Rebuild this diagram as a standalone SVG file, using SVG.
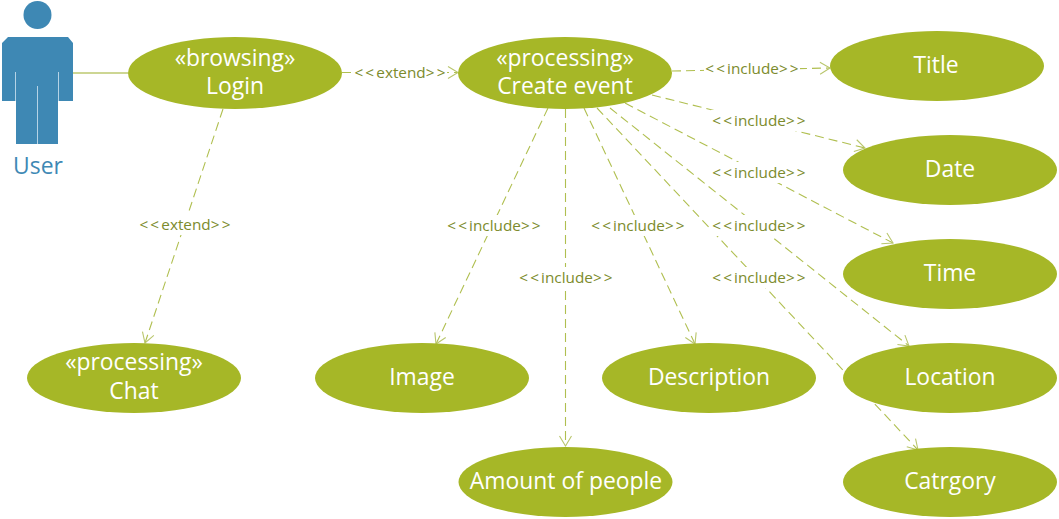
<svg xmlns="http://www.w3.org/2000/svg" width="1059" height="519" viewBox="0 0 1059 519">
<style>
text{font-family:"Open Sans","Noto Sans","Liberation Sans",sans-serif}
.uc{fill:#a6b727}
.n{fill:#fff;font-size:22.900px;text-anchor:middle}
.l{fill:#7c8b2c;font-size:15.300px;text-anchor:middle}
.l tspan{letter-spacing:2.200px}
.d{fill:none;stroke:#b0bf50;stroke-width:1.100;stroke-dasharray:9 5;marker-end:url(#a)}
.bg{fill:#fff}
</style>
<defs>
<marker id="a" markerUnits="userSpaceOnUse" markerWidth="14" markerHeight="16" refX="12" refY="8" orient="auto">
<path d="M2 2L12 8L2 14" fill="none" stroke="#b9c66d" stroke-width="1.100"/>
</marker>
</defs>
<rect width="1059" height="519" fill="#fff"/>
<g id="connectors">
<path d="M73 73H128" fill="none" stroke="#bdc96f" stroke-width="1.600"/>
<path class="d" d="M342 72.500H458"/>
<path class="d" d="M223 109L145 343"/>
<path class="d" d="M672 71L830 68"/>
<path class="d" d="M652 95L865 148"/>
<path class="d" d="M625 103L893 243"/>
<path class="d" d="M610 108L909 346"/>
<path class="d" d="M597 108L918 450"/>
<path class="d" d="M584 108L695 344"/>
<path class="d" d="M565.500 109V446"/>
<path class="d" d="M548 108L436 344"/>
<g id="connector-labels">
<rect class="bg" x="353" y="62" width="94" height="21"/><text class="l" x="401" y="78"><tspan>&lt;&lt;</tspan>extend<tspan>&gt;&gt;</tspan></text>
<rect class="bg" x="138" y="214" width="94" height="21"/><text class="l" x="186" y="230"><tspan>&lt;&lt;</tspan>extend<tspan>&gt;&gt;</tspan></text>
<rect class="bg" x="704" y="58" width="96" height="21"/><text class="l" x="753" y="74"><tspan>&lt;&lt;</tspan>include<tspan>&gt;&gt;</tspan></text>
<rect class="bg" x="711" y="110" width="96" height="21"/><text class="l" x="760" y="126"><tspan>&lt;&lt;</tspan>include<tspan>&gt;&gt;</tspan></text>
<rect class="bg" x="711" y="162" width="96" height="21"/><text class="l" x="760" y="178"><tspan>&lt;&lt;</tspan>include<tspan>&gt;&gt;</tspan></text>
<rect class="bg" x="711" y="215" width="96" height="21"/><text class="l" x="760" y="231"><tspan>&lt;&lt;</tspan>include<tspan>&gt;&gt;</tspan></text>
<rect class="bg" x="711" y="267" width="96" height="21"/><text class="l" x="760" y="283"><tspan>&lt;&lt;</tspan>include<tspan>&gt;&gt;</tspan></text>
<rect class="bg" x="590" y="215" width="96" height="21"/><text class="l" x="639" y="231"><tspan>&lt;&lt;</tspan>include<tspan>&gt;&gt;</tspan></text>
<rect class="bg" x="518" y="267" width="96" height="21"/><text class="l" x="567" y="283"><tspan>&lt;&lt;</tspan>include<tspan>&gt;&gt;</tspan></text>
<rect class="bg" x="446" y="215" width="96" height="21"/><text class="l" x="495" y="231"><tspan>&lt;&lt;</tspan>include<tspan>&gt;&gt;</tspan></text>
</g>
</g>
<g id="user">
<circle cx="37.500" cy="15" r="14" fill="#3e88b4"/>
<path d="M8 37H68L73 43V101H58V144H16V101H2V43Z" fill="#3e88b4"/>
<path d="M15.500 72V101M58.500 72V101M37.500 86V144" stroke="#b5d3e6" stroke-width="1" fill="none"/>
<text x="38" y="174" font-size="22.900" text-anchor="middle" fill="#3e88b4">User</text>
</g>
<g id="login"><ellipse class="uc" cx="235" cy="73" rx="107" ry="36"/><text class="n" x="235" y="66">«browsing»</text><text class="n" x="235" y="94">Login</text></g>
<g id="create-event"><ellipse class="uc" cx="565" cy="73" rx="107" ry="36"/><text class="n" x="565" y="66">«processing»</text><text class="n" x="565" y="94">Create event</text></g>
<g id="chat"><ellipse class="uc" cx="134" cy="378" rx="107" ry="35"/><text class="n" x="134" y="370">«processing»</text><text class="n" x="134" y="399">Chat</text></g>
<g id="title"><ellipse class="uc" cx="937" cy="66" rx="107" ry="35"/><text class="n" x="936" y="73">Title</text></g>
<g id="date"><ellipse class="uc" cx="950" cy="170" rx="107" ry="35"/><text class="n" x="950" y="177">Date</text></g>
<g id="time"><ellipse class="uc" cx="950" cy="274" rx="107" ry="35"/><text class="n" x="950" y="281">Time</text></g>
<g id="location"><ellipse class="uc" cx="950" cy="378" rx="107" ry="35"/><text class="n" x="950" y="385">Location</text></g>
<g id="catrgory"><ellipse class="uc" cx="950" cy="482" rx="107" ry="35"/><text class="n" x="950" y="489">Catrgory</text></g>
<g id="image"><ellipse class="uc" cx="422" cy="378" rx="107" ry="35"/><text class="n" x="422" y="385">Image</text></g>
<g id="description"><ellipse class="uc" cx="709" cy="378" rx="107" ry="35"/><text class="n" x="709" y="385">Description</text></g>
<g id="amount"><ellipse class="uc" cx="565.500" cy="482" rx="107" ry="35"/><text class="n" x="566" y="489">Amount of people</text></g>
</svg>
